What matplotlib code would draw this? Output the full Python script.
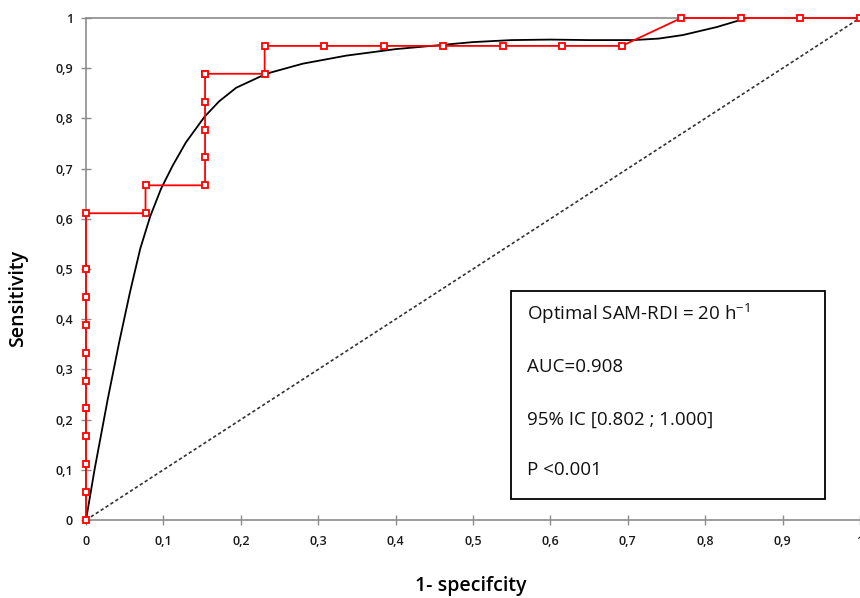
import matplotlib
matplotlib.use("Agg")
import matplotlib.pyplot as plt
from matplotlib.patches import Rectangle

# ROC empirical points (1-specificity, sensitivity)
roc_x = [0, 0, 0, 0, 0, 0, 0, 0, 0, 0, 0,
         0.0769, 0.0769, 0.1538, 0.1538, 0.1538, 0.1538, 0.1538, 0.1538,
         0.2308, 0.2308, 0.3077, 0.3846, 0.4615, 0.5385, 0.6154, 0.6923,
         0.7692, 0.8462, 0.9231, 1.0]
roc_y = [0, 0.0556, 0.1111, 0.1667, 0.2222, 0.2778, 0.3333, 0.3889, 0.4444, 0.5, 0.6111,
         0.6111, 0.6667, 0.6667, 0.7222, 0.7778, 0.8333, 0.8889, 0.8889,
         0.8889, 0.9444, 0.9444, 0.9444, 0.9444, 0.9444, 0.9444, 0.9444,
         1.0, 1.0, 1.0, 1.0]

# smooth fitted curve
fit_x = [0, 0.011, 0.028, 0.043, 0.057, 0.070, 0.083, 0.097, 0.112, 0.129, 0.153,
         0.172, 0.194, 0.233, 0.280, 0.336, 0.4, 0.5, 0.55, 0.6, 0.65, 0.707,
         0.74, 0.771, 0.815, 0.854]
fit_y = [0, 0.10, 0.24, 0.355, 0.455, 0.54, 0.605, 0.66, 0.706, 0.752, 0.803,
         0.834, 0.861, 0.889, 0.909, 0.925, 0.938, 0.952, 0.956, 0.957, 0.956, 0.956,
         0.959, 0.966, 0.982, 1.0]

ticks = [0, 0.1, 0.2, 0.3, 0.4, 0.5, 0.6, 0.7, 0.8, 0.9, 1]
tick_labels = ["0", "0,1", "0,2", "0,3", "0,4", "0,5", "0,6", "0,7", "0,8", "0,9", "1"]

box_lines = ["Optimal SAM-RDI = 20 h$^{-1}$", "AUC=0.908", "95% IC [0.802 ; 1.000]", "P <0.001"]

plt.rcParams['font.family'] = ['Open Sans', 'DejaVu Sans']
plt.rcParams['mathtext.fontset'] = 'custom'
plt.rcParams['mathtext.rm'] = 'Open Sans'
plt.rcParams['mathtext.it'] = 'Open Sans'

fig = plt.figure(figsize=(8.6, 5.98), dpi=100)
ax = fig.add_axes([0.1, 0.1304, 0.9, 0.8395])
ax.set_xlim(0, 1)
ax.set_ylim(0, 1)

ax.plot([0, 1], [0, 1], color="#333333", linestyle=(0, (2, 1.5)), linewidth=1.2, zorder=2)
ax.plot(fit_x, fit_y, color="black", linewidth=1.3, zorder=3, solid_joinstyle="round")
ax.plot(roc_x, roc_y, color="red", linewidth=1.3, marker="s", markersize=5,
        markerfacecolor="white", markeredgecolor="red", markeredgewidth=1.3,
        zorder=4, clip_on=False)

for side in ["left", "bottom", "top"]:
    ax.spines[side].set_color("#8c8c8c")
    ax.spines[side].set_linewidth(1.2)
ax.spines["right"].set_visible(False)

ax.set_xticks(ticks)
ax.set_xticklabels(tick_labels)
ax.set_yticks(ticks)
ax.set_yticklabels(tick_labels)
ax.tick_params(axis="both", direction="inout", length=7, width=1, color="#8c8c8c",
               labelsize=9, labelcolor="#1a1a1a")
ax.tick_params(axis="x", pad=7)
ax.tick_params(axis="y", pad=6)
for lbl in ax.get_xticklabels() + ax.get_yticklabels():
    lbl.set_fontweight("semibold")

fig.text(471 / 860, 1 - 586 / 598, "1- specifcity", fontsize=14, fontweight="semibold",
         ha="center", va="center")
fig.text(18 / 860, 1 - 298 / 598, "Sensitivity", fontsize=14, fontweight="semibold",
         ha="center", va="center", rotation=90)

ax.add_patch(Rectangle((0.549, 0.042), 0.406, 0.414, transform=ax.transAxes,
                       facecolor="white", edgecolor="black", linewidth=1.3, zorder=5))
for line, yy in zip(box_lines, [0.410, 0.305, 0.199, 0.0996]):
    ax.text(0.570, yy, line, transform=ax.transAxes, fontsize=13.5, va="center",
            ha="left", zorder=6, color="#111111")

fig.savefig("out.png", dpi=100)
